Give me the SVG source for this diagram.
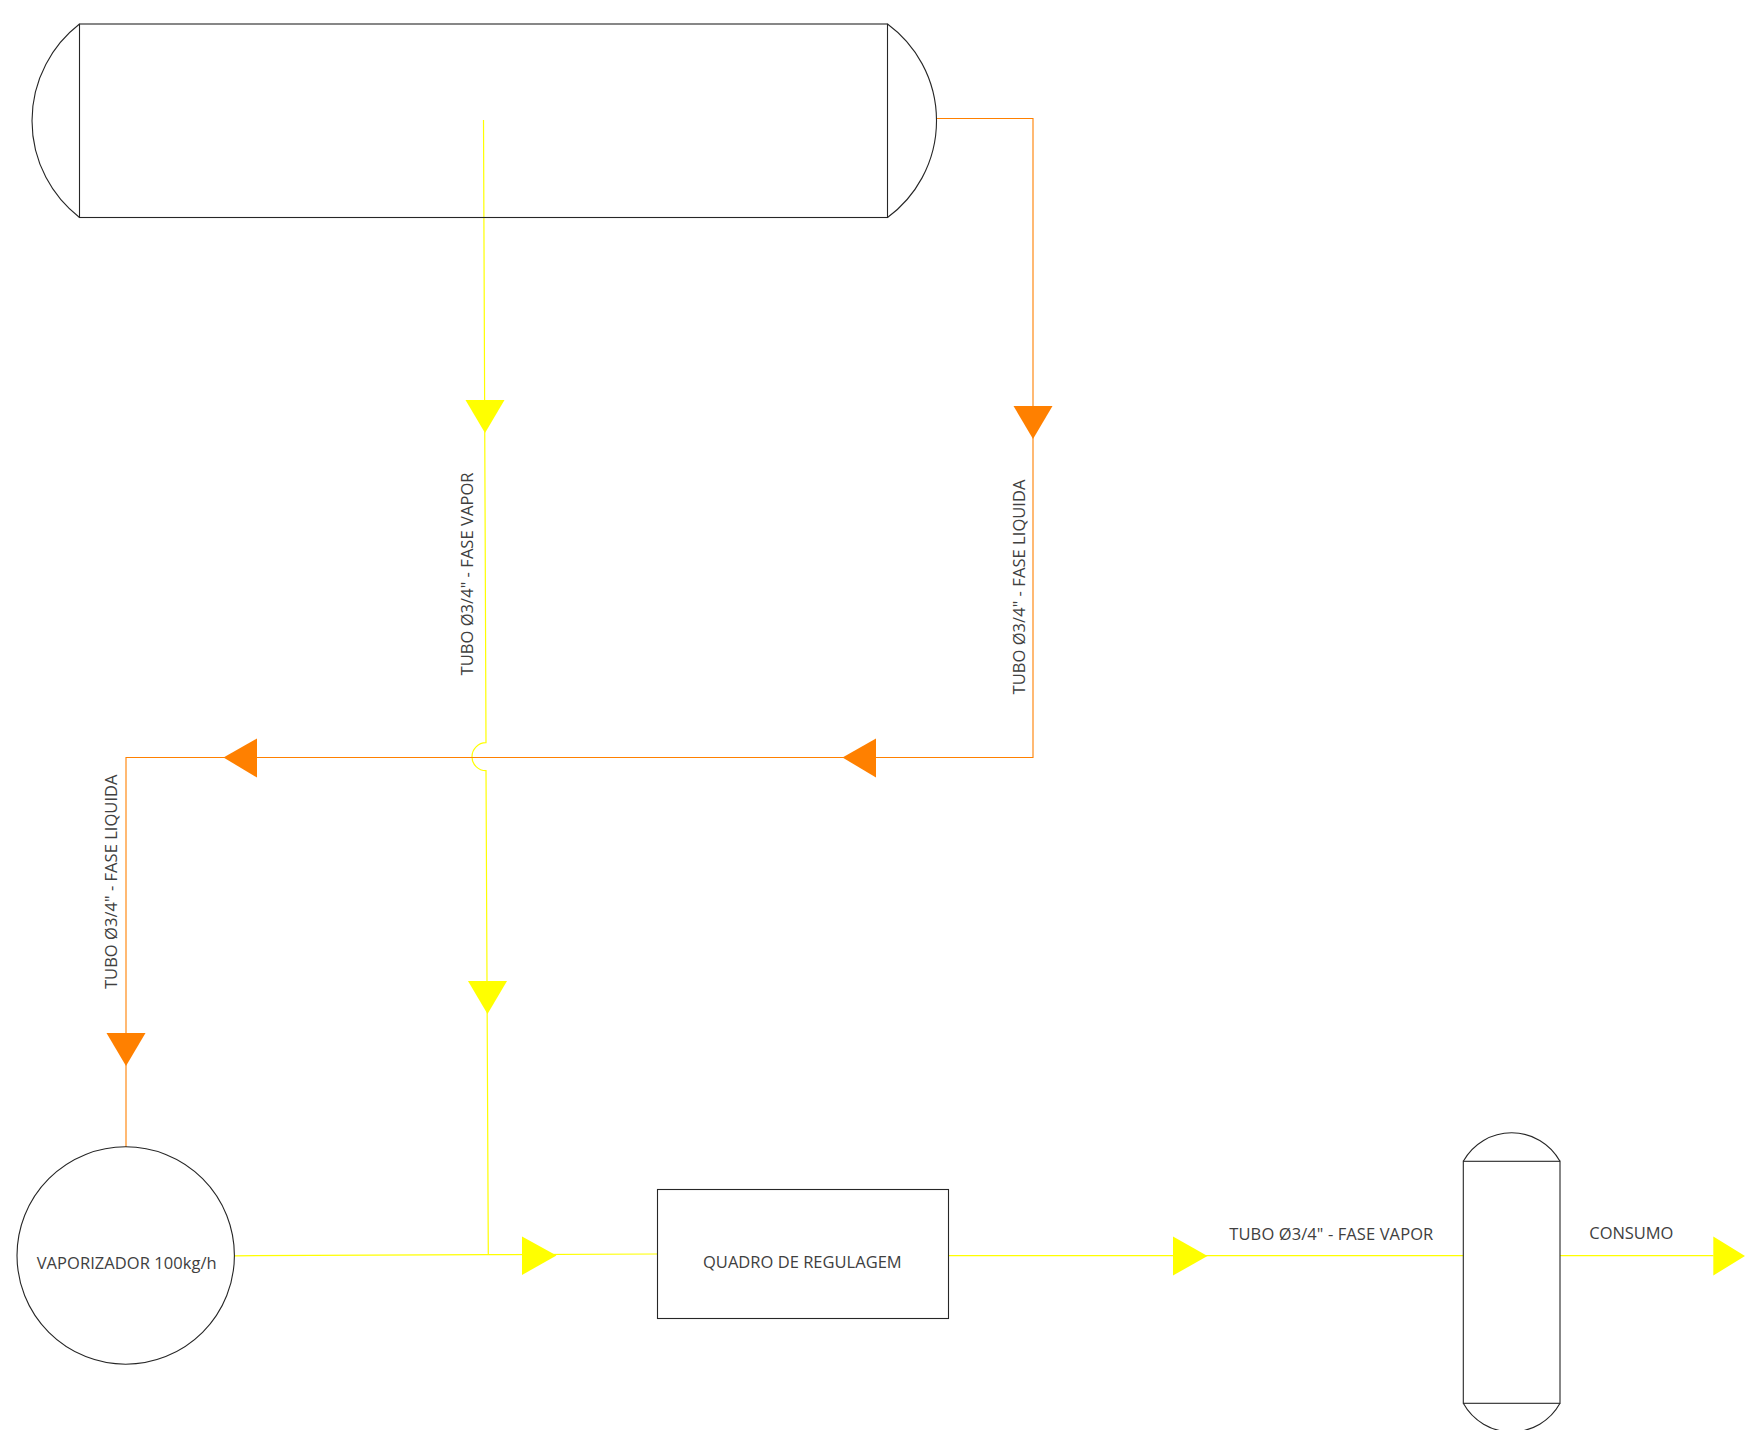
<svg xmlns="http://www.w3.org/2000/svg" width="1745" height="1430" viewBox="0 0 1745 1430">
<style>
.n{fill:none;stroke:#262626;stroke-width:1.1}
.y{fill:none;stroke:#ffff00;stroke-width:1.2}
.o{fill:none;stroke:#ff8000;stroke-width:1.1}
.ya{fill:#ffff00}
.oa{fill:#ff8000}
text{font-family:"Open Sans","Noto Sans","Liberation Sans",sans-serif;font-size:16.5px;fill:#404040}
</style>
<rect width="1745" height="1430" fill="#ffffff"/>
<g id="connectors">
<path class="y" d="M483.5 120L486 742.7A14 14 0 0 0 486 770.7L488.3 1254.7"/>
<path class="y" d="M234 1255.8L488.3 1254.7L657.5 1254"/>
<path class="y" d="M948.7 1255.7H1463.3"/>
<path class="y" d="M1560 1255.7H1713.5"/>
<path class="o" d="M936.5 118.5H1033V757.5H126V1147"/>
<polygon class="ya" points="465.5,400 504.5,400 485,433"/>
<polygon class="ya" points="468,981 507,981 487.5,1014"/>
<polygon class="ya" points="522,1236.5 522,1275 556.5,1255.5"/>
<polygon class="ya" points="1173,1236.5 1173,1275.5 1207.5,1256"/>
<polygon class="ya" points="1713.3,1236.5 1713.3,1275.5 1745,1256"/>
<polygon class="oa" points="1013.5,406 1052.5,406 1033,439"/>
<polygon class="oa" points="876,738.5 876,777.5 842.5,757.5"/>
<polygon class="oa" points="257,738.5 257,777.5 223.5,757.5"/>
<polygon class="oa" points="106.5,1033 145.5,1033 126,1066"/>
</g>
<g id="tank">
<rect class="n" x="79.5" y="24" width="808" height="193.5"/>
<path class="n" d="M79.5 24A122.3 122.3 0 0 0 79.5 217.5"/>
<path class="n" d="M887.5 24A120 120 0 0 1 887.5 217.5"/>
</g>
<g id="vaporizador">
<circle class="n" cx="125.7" cy="1255.5" r="108.7"/>
<text x="36.7" y="1269" textLength="180" lengthAdjust="spacing">VAPORIZADOR 100kg/h</text>
</g>
<g id="quadro">
<rect class="n" x="657.5" y="1189.5" width="291" height="129"/>
<text x="703" y="1268" textLength="198.7" lengthAdjust="spacing">QUADRO DE REGULAGEM</text>
</g>
<g id="vessel">
<rect class="n" x="1463.3" y="1161.3" width="96.7" height="242"/>
<path class="n" d="M1463.3 1161.3A55.2 55.2 0 0 1 1560 1161.3"/>
<path class="n" d="M1463.3 1403.3A55.2 55.2 0 0 0 1560 1403.3"/>
</g>
<g id="labels">
<text transform="translate(473 675.5) rotate(-90)" textLength="203" lengthAdjust="spacing">TUBO Ø3/4" - FASE VAPOR</text>
<text transform="translate(1025.3 694.5) rotate(-90)" textLength="215" lengthAdjust="spacing">TUBO Ø3/4" - FASE LIQUIDA</text>
<text transform="translate(117 989) rotate(-90)" textLength="214.5" lengthAdjust="spacing">TUBO Ø3/4" - FASE LIQUIDA</text>
<text x="1229.3" y="1240" textLength="204" lengthAdjust="spacing">TUBO Ø3/4" - FASE VAPOR</text>
<text x="1589.3" y="1239" textLength="84" lengthAdjust="spacing">CONSUMO</text>
</g>
</svg>
